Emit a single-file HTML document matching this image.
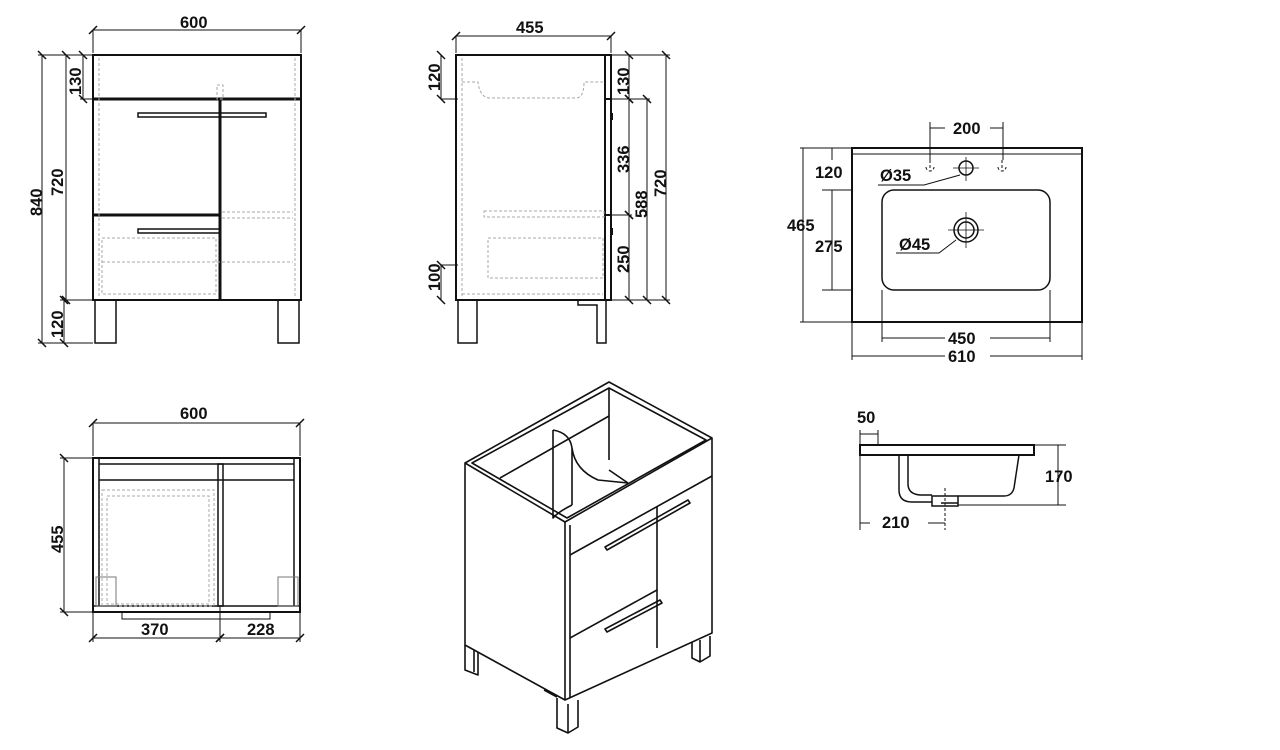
<!DOCTYPE html>
<html><head><meta charset="utf-8"><style>
html,body{margin:0;padding:0;background:#fff;}
svg{display:block}
text{font-family:"Liberation Sans",sans-serif;font-weight:bold;font-size:16.5px;fill:#111}
.d{marker-start:url(#t);marker-end:url(#t)}
</style></head><body>
<svg width="1280" height="750" viewBox="0 0 1280 750" xmlns="http://www.w3.org/2000/svg">
<defs><marker id="t" markerWidth="12" markerHeight="12" refX="6" refY="6" orient="auto" markerUnits="userSpaceOnUse"><path d="M2 10 L10 2" stroke="#111" stroke-width="1.5"/></marker></defs>
<g stroke="#111" fill="none" stroke-width="1">
<!-- FRONT VIEW -->
<rect x="93" y="55" width="208" height="245" stroke-width="2"/>
<line x1="93" y1="99" x2="301" y2="99" stroke-width="3"/>
<line x1="220" y1="99" x2="220" y2="300" stroke-width="3"/>
<line x1="93" y1="215" x2="220" y2="215" stroke-width="3"/>
<rect x="138" y="113" width="128" height="4" stroke-width="1.5"/>
<rect x="138" y="229" width="82" height="4" stroke-width="1.5"/>
<g stroke="#aaa" stroke-dasharray="3,2">
<line x1="99" y1="58" x2="99" y2="297"/><line x1="295" y1="58" x2="295" y2="297"/>
<line x1="222" y1="212" x2="293" y2="212"/><line x1="222" y1="218" x2="293" y2="218"/>
<rect x="102" y="238" width="114" height="56"/><line x1="102" y1="262" x2="293" y2="262"/>
<rect x="217" y="85" width="6" height="14"/>
</g>
<rect x="95" y="300" width="21" height="43" stroke-width="1.5"/>
<rect x="278" y="300" width="21" height="43" stroke-width="1.5"/>
<line class="d" x1="93" y1="30" x2="301" y2="30"/><line x1="93" y1="30" x2="93" y2="53"/><line x1="301" y1="30" x2="301" y2="53"/>
<line class="d" x1="42" y1="55" x2="42" y2="343"/><line class="d" x1="66" y1="55" x2="66" y2="300"/><line class="d" x1="83" y1="55" x2="83" y2="99"/>
<line class="d" x1="64" y1="300" x2="64" y2="343"/>
<line x1="38" y1="55" x2="93" y2="55"/><line x1="38" y1="343" x2="93" y2="343"/><line x1="60" y1="300" x2="93" y2="300"/><line x1="80" y1="99" x2="93" y2="99"/>
<!-- SIDE VIEW -->
<rect x="456" y="55" width="155" height="245" stroke-width="2"/>
<line x1="605" y1="55" x2="605" y2="300" stroke-width="2"/>
<line x1="605" y1="99" x2="611" y2="99" stroke-width="2"/><line x1="605" y1="215" x2="611" y2="215" stroke-width="2"/>
<g stroke="#aaa" stroke-dasharray="3,2">
<line x1="462" y1="58" x2="462" y2="297"/>
<path d="M462 82 H478 Q480 98 490 98 H576 Q584 98 584 82 H603"/>
<rect x="484" y="211" width="120" height="6"/><rect x="488" y="238" width="115" height="40"/>
<line x1="462" y1="294" x2="603" y2="294"/>
</g>
<line x1="612" y1="113" x2="612" y2="120" stroke-width="2"/><line x1="612" y1="228" x2="612" y2="235" stroke-width="2"/>
<rect x="458" y="300" width="19" height="43" stroke-width="1.5"/>
<path d="M578 300 V305 H597 V343 H606 V300" stroke-width="1.5"/>
<line class="d" x1="456" y1="36" x2="611" y2="36"/><line x1="456" y1="36" x2="456" y2="53"/><line x1="611" y1="36" x2="611" y2="53"/>
<line class="d" x1="441" y1="55" x2="441" y2="99"/><line class="d" x1="441" y1="265" x2="441" y2="300"/><line x1="441" y1="99" x2="458" y2="99"/><line x1="441" y1="265" x2="458" y2="265"/>
<line class="d" x1="629" y1="55" x2="629" y2="99"/><line class="d" x1="629" y1="99" x2="629" y2="215"/><line class="d" x1="629" y1="215" x2="629" y2="300"/><line class="d" x1="647" y1="99" x2="647" y2="300"/><line class="d" x1="666" y1="55" x2="666" y2="300"/>
<line x1="611" y1="55" x2="670" y2="55"/><line x1="611" y1="99" x2="650" y2="99"/><line x1="611" y1="215" x2="632" y2="215"/><line x1="611" y1="300" x2="670" y2="300"/>
<!-- SINK PLAN -->
<rect x="852" y="148" width="230" height="174" stroke-width="2"/>
<line x1="853" y1="154" x2="1081" y2="154"/>
<rect x="882" y="190" width="168" height="100" rx="12" stroke-width="1.5"/>
<circle cx="966" cy="168" r="7" stroke-width="1.5"/>
<circle cx="966" cy="230" r="12" stroke-width="1.5"/><circle cx="966" cy="230" r="8" stroke-width="1.5"/>
<g stroke-width="0.8"><line x1="953" y1="168" x2="979" y2="168"/><line x1="966" y1="157" x2="966" y2="181"/>
<line x1="948" y1="230" x2="984" y2="230"/><line x1="966" y1="212" x2="966" y2="248"/></g>
<g stroke-dasharray="3,2" stroke-width="1"><path d="M926 167 a4 4 0 0 0 8 0 M930 160 v10 M998 167 a4 4 0 0 0 8 0 M1002 160 v10"/></g>
<path d="M878 185 H924 L960 175"/><path d="M896 253 H939 L956 240"/>
<line x1="930" y1="122" x2="930" y2="160"/><line x1="1003" y1="122" x2="1003" y2="160"/><line x1="930" y1="128" x2="945" y2="128"/><line x1="990" y1="128" x2="1003" y2="128"/>
<line x1="803" y1="148" x2="803" y2="322"/><line x1="800" y1="148" x2="852" y2="148"/><line x1="800" y1="322" x2="852" y2="322"/>
<line x1="832" y1="148" x2="832" y2="160"/><line x1="832" y1="190" x2="832" y2="290"/><line x1="822" y1="190" x2="852" y2="190"/><line x1="822" y1="290" x2="852" y2="290"/>
<line x1="882" y1="290" x2="882" y2="342"/><line x1="1050" y1="290" x2="1050" y2="342"/><line x1="882" y1="338" x2="945" y2="338"/><line x1="990" y1="338" x2="1050" y2="338"/>
<line x1="852" y1="322" x2="852" y2="360"/><line x1="1082" y1="322" x2="1082" y2="360"/><line x1="852" y1="356" x2="945" y2="356"/><line x1="990" y1="356" x2="1082" y2="356"/>
<!-- SECTION -->
<rect x="860" y="445" width="174" height="10" stroke-width="2"/>
<path d="M899 455 V490 Q899 502 912 502 H932 M941 503 H958 M958 496 H1004 Q1012 496 1014 488 L1019 455" stroke-width="1.5"/>
<path d="M908 455 V484 Q908 494 920 495 H932" stroke-width="1.5"/>
<rect x="932" y="496" width="26" height="10" stroke-width="1.5"/>
<line x1="945" y1="488" x2="945" y2="530" stroke-dasharray="3,2"/>
<line x1="860" y1="430" x2="860" y2="530"/><line x1="878" y1="430" x2="878" y2="445"/><line x1="860" y1="434" x2="878" y2="434"/>
<line x1="1034" y1="445" x2="1066" y2="445"/><line x1="958" y1="505" x2="1066" y2="505"/><line x1="1058" y1="445" x2="1058" y2="505"/>
<line x1="860" y1="523" x2="870" y2="523"/><line x1="928" y1="523" x2="945" y2="523"/>
<!-- BOTTOM PLAN -->
<rect x="93" y="458" width="207" height="154" stroke-width="2"/>
<line x1="99" y1="458" x2="99" y2="606" stroke-width="1.5"/><line x1="294" y1="458" x2="294" y2="606" stroke-width="1.5"/>
<line x1="99" y1="464" x2="294" y2="464" stroke-width="1.5"/><line x1="99" y1="480" x2="294" y2="480" stroke-width="1.5"/>
<rect x="218" y="464" width="5" height="142" stroke-width="1.5"/>
<line x1="93" y1="606" x2="300" y2="606" stroke-width="1.5"/>
<rect x="122" y="612" width="148" height="7"/>
<g stroke="#aaa" stroke-dasharray="3,2"><rect x="102" y="490" width="112" height="116"/><rect x="107" y="496" width="102" height="108"/></g>
<rect x="96" y="577" width="20" height="29" stroke="#777"/><rect x="278" y="577" width="20" height="29" stroke="#777"/>
<line class="d" x1="93" y1="423" x2="300" y2="423"/><line x1="93" y1="423" x2="93" y2="456"/><line x1="300" y1="423" x2="300" y2="456"/>
<line class="d" x1="64" y1="458" x2="64" y2="612"/><line x1="60" y1="458" x2="93" y2="458"/><line x1="60" y1="612" x2="93" y2="612"/>
<line x1="93" y1="612" x2="93" y2="642"/><line x1="300" y1="612" x2="300" y2="642"/><line x1="220" y1="606" x2="220" y2="642"/><line class="d" x1="93" y1="638" x2="220" y2="638"/><line class="d" x1="220" y1="638" x2="300" y2="638"/>
<!-- ISOMETRIC -->
<g stroke-width="1.6" stroke-linejoin="round">
<path d="M465 463 L609 382 L712 438 L712 633 L565 700 L465 645 Z" fill="#fff"/>
<path d="M465 463 L565 522 L712 438"/>
<path d="M565 522 V700"/><path d="M570 525 V698"/>
<path d="M472 463 L609 388 L706 440 L567 518 Z"/>
<path d="M609 388 V416 M500 478 L609 416 L609 460 M553 430 V518 Q558 512 572 505"/>
<path d="M553 430 Q570 433 572 448 Q575 470 598 480 L628 483 M572 448 L572 505"/>
<path d="M628 483 L609 470"/>
<path d="M570 555 L712 476"/><path d="M657 507 V648"/>
<path d="M570 638 L657 590"/>
<path d="M605 547 L688 500 L690 503 L607 550 Z"/>
<path d="M605 629 L660 600 L662 603 L607 632 Z"/>
<path d="M465 645 V670 L478 675 V652 M474 650 V672"/>
<path d="M557 698 V728 L568 733 L578 727 V700 M568 704 V733"/>
<path d="M692 642 V658 L700 662 L710 656 V636 M700 640 V662"/>
<path d="M544 690 L557 697"/>
</g>
</g>
<g>
<text x="180" y="28">600</text>
<text x="516" y="33">455</text>
<text x="953" y="134">200</text>
<text x="815" y="178">120</text>
<text x="880" y="181">Ø35</text>
<text x="787" y="231">465</text>
<text x="815" y="252">275</text>
<text x="899" y="250">Ø45</text>
<text x="948" y="344">450</text>
<text x="948" y="362">610</text>
<text x="180" y="419">600</text>
<text x="141" y="635">370</text>
<text x="247" y="635">228</text>
<text x="857" y="423">50</text>
<text x="1045" y="482">170</text>
<text x="882" y="528">210</text>
<g transform="rotate(-90)">
<text x="-216" y="42">840</text>
<text x="-196" y="63">720</text>
<text x="-95" y="81">130</text>
<text x="-338" y="63">120</text>
<text x="-91" y="440">120</text>
<text x="-291" y="440">100</text>
<text x="-95" y="629">130</text>
<text x="-173" y="629">336</text>
<text x="-273" y="629">250</text>
<text x="-218" y="647">588</text>
<text x="-197" y="666">720</text>
<text x="-553" y="63">455</text>
</g>
</g>
</svg>
</body></html>
